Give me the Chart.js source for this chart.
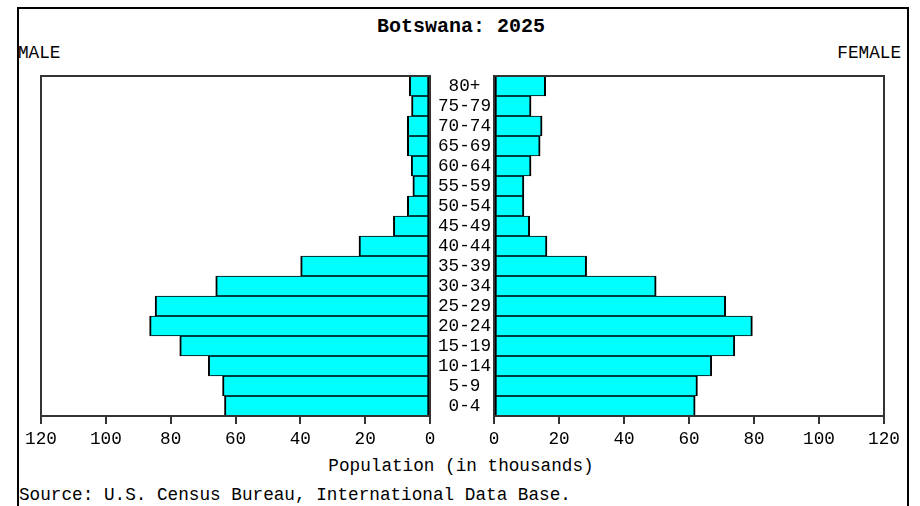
<!DOCTYPE html>
<html>
<head>
<meta charset="utf-8">
<script src="https://cdn.jsdelivr.net/npm/chart.js@4/dist/chart.umd.min.js"></script>
<style>
  html, body { margin: 0; padding: 0; background: #fff; }
  body { width: 920px; height: 506px; position: relative; overflow: hidden; font-family: "Liberation Mono", "DejaVu Sans Mono", monospace; color: #000; }
  .frame { position: absolute; left: 17px; top: 7px; width: 888px; height: 520px; border: 2px solid #000; border-bottom: none; }
  .txt { position: absolute; font-size: 17.7px; line-height: 18px; white-space: nowrap; }
  canvas { position: absolute; top: 0; }
</style>
</head>
<body>
<div class="frame"></div>
<div class="txt" id="title" style="left:0;width:922px;text-align:center;top:17px;font-size:20px;line-height:20px;font-weight:bold;">Botswana: 2025</div>
<div class="txt" style="left:18px;top:44px;">MALE</div>
<div class="txt" style="right:19px;top:44px;">FEMALE</div>
<div class="txt" style="left:0;width:922px;text-align:center;top:457px;">Population (in thousands)</div>
<div class="txt" style="left:19px;top:486px;">Source: U.S. Census Bureau, International Data Base.</div>
<canvas id="male" width="494" height="506" style="left:0;width:494px;height:506px;"></canvas>
<canvas id="female" width="460" height="506" style="left:460px;width:460px;height:506px;"></canvas>
<script>
// Age groups, bottom (youngest) to top (oldest)
const ageGroups = ['0-4','5-9','10-14','15-19','20-24','25-29','30-34','35-39','40-44','45-49','50-54','55-59','60-64','65-69','70-74','75-79','80+'];
// Population in thousands
const maleValues   = [63.4, 64.0, 68.4, 77.2, 86.5, 84.8, 66.1, 39.9, 21.9, 11.3, 7.0, 5.3, 5.8, 7.0, 7.0, 5.7, 6.4];
const femaleValues = [61.9, 62.6, 67.0, 74.1, 79.5, 71.3, 49.9, 28.5, 16.3, 11.0, 9.2, 9.2, 11.4, 14.2, 14.8, 11.4, 15.9];
const xTicks = [0, 20, 40, 60, 80, 100, 120];

Chart.defaults.font.family = '"Liberation Mono", "DejaVu Sans Mono", monospace';
Chart.defaults.font.size = 17.7;
Chart.defaults.color = '#000';

const framePlugin = {
  id: 'frameBox',
  afterDatasetsDraw(chart) {
    const a = chart.chartArea, ctx = chart.ctx;
    ctx.save();
    ctx.strokeStyle = '#333';
    ctx.lineWidth = 2;
    ctx.strokeRect(a.left, a.top, a.right - a.left, a.bottom - a.top);
    ctx.restore();
  }
};

function makeChart(id, values, isMale, padding) {
  return new Chart(document.getElementById(id), {
    type: 'bar',
    data: {
      labels: ageGroups,
      datasets: [{
        data: values,
        backgroundColor: '#00FFFF',
        borderColor: '#000',
        borderWidth: {top: 1, bottom: 1, left: 2, right: 2},
        borderSkipped: false,
        barPercentage: 1,
        categoryPercentage: 1
      }]
    },
    options: {
      indexAxis: 'y',
      responsive: false,
      animation: false,
      devicePixelRatio: 1,
      layout: { padding: padding },
      plugins: { legend: { display: false }, tooltip: { enabled: false }, title: { display: false } },
      scales: {
        x: {
          type: 'linear',
          min: 0, max: 120,
          reverse: isMale,
          afterBuildTicks(axis) { axis.ticks = xTicks.map(v => ({ value: v })); },
          afterFit(axis) { axis.height = 40; },
          grid: { display: true, drawOnChartArea: false, drawTicks: true, tickLength: 8, color: '#333', lineWidth: 2 },
          border: { display: true, color: '#333', width: 2 },
          ticks: { padding: 5, maxRotation: 0, autoSkip: false, color: '#000' }
        },
        y: {
          type: 'category',
          reverse: true,
          position: 'right',
          display: isMale,
          afterFit(axis) { axis.width = isMale ? 64 : 0; },
          grid: { display: false },
          border: { display: false },
          ticks: { crossAlign: 'center', padding: 0, color: '#000', autoSkip: false }
        }
      }
    },
    plugins: [framePlugin]
  });
}

makeChart('male', maleValues, true, { left: 41, top: 76, right: 0, bottom: 50 });
makeChart('female', femaleValues, false, { left: 34, top: 76, right: 36, bottom: 50 });
</script>
</body>
</html>
